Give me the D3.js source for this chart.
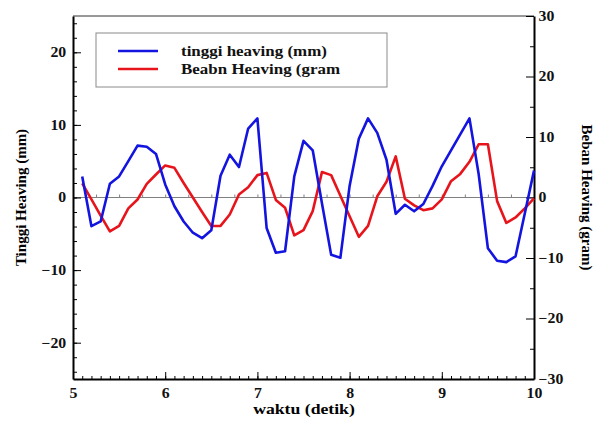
<!DOCTYPE html>
<html>
<head>
<meta charset="utf-8">
<script src="https://cdn.jsdelivr.net/npm/d3@7"></script>
<style>
  body { margin: 0; background: #fff; }
  svg text { font-family: "Liberation Serif", "Times New Roman", serif; font-weight: bold; }
</style>
</head>
<body>
<div class="chart"></div>
<script>
// waktu (detik)
const waktu = [5.1, 5.2, 5.3, 5.4, 5.5, 5.6, 5.7, 5.8, 5.9, 6.0,
               6.1, 6.2, 6.3, 6.4, 6.5, 6.6, 6.7, 6.8, 6.9, 7.0,
               7.1, 7.2, 7.3, 7.4, 7.5, 7.6, 7.7, 7.8, 7.9, 8.0,
               8.1, 8.2, 8.3, 8.4, 8.5, 8.6, 8.7, 8.8, 8.9, 9.0,
               9.1, 9.2, 9.3, 9.4, 9.5, 9.6, 9.7, 9.8, 9.9, 10.0];

// tinggi heaving (mm) - left axis
const tinggi = [2.9, -3.95, -3.3, 1.9, 2.9, 5.0, 7.15, 7.0, 6.0, 1.8,
                -1.2, -3.3, -4.85, -5.6, -4.5, 3.0, 5.9, 4.2, 9.5, 10.9,
                -4.2, -7.6, -7.4, 2.9, 7.8, 6.5, -0.8, -7.9, -8.3, 1.6,
                8.1, 10.9, 8.9, 5.2, -2.25, -1.0, -1.9, -0.9, 1.6, 4.3,
                6.5, 8.7, 10.9, 3.2, -7.0, -8.7, -8.9, -8.1, -2.2, 3.7];

// beban heaving (gram) - right axis
const beban = [2.35, -0.3, -3.0, -5.6, -4.7, -1.8, -0.33, 2.25, 3.8, 5.3,
               4.9, 2.4, 0.0, -2.4, -4.7, -4.7, -2.8, 0.5, 1.7, 3.7,
               4.06, -0.4, -1.7, -6.25, -5.4, -2.25, 4.2, 3.7, 0.3, -3.1,
               -6.5, -4.7, 0.2, 2.6, 6.8, -0.2, -1.3, -2.1, -1.8, -0.3,
               2.7, 3.9, 5.9, 8.8, 8.8, -0.6, -4.2, -3.3, -1.8, -0.16];

const xTicks = [5, 6, 7, 8, 9, 10];
const leftTicks = [-20, -10, 0, 10, 20];
const rightTicks = [-30, -20, -10, 0, 10, 20, 30];
const legendLabels = ["tinggi heaving (mm)", "Beabn Heaving (gram"];

const width = 597, height = 425;
const margin = {left: 73, right: 63, top: 16, bottom: 46};

const svg = d3.select(".chart").append("svg")
  .attr("width", width)
  .attr("height", height);

const x = d3.scaleLinear().domain([5, 10]).range([margin.left, width - margin.right]);
const yL = d3.scaleLinear().domain([-25, 25]).range([height - margin.bottom, margin.top]);
const yR = d3.scaleLinear().domain([-30, 30]).range([height - margin.bottom, margin.top]);

const bottomY = height - margin.bottom;
const rightX = width - margin.right;
const wide = 1.13; // reference text looks stretched sideways

// zero line with little ticks
svg.append("line")
  .attr("x1", x(5)).attr("x2", x(10))
  .attr("y1", yL(0)).attr("y2", yL(0))
  .attr("stroke", "#808080")
  .attr("stroke-width", 1.2);

svg.append("g")
  .attr("transform", `translate(0, ${yL(0)})`)
  .call(d3.axisTop(x).tickValues(d3.range(5.25, 10, 0.25)).tickSize(3).tickFormat(""))
  .call(g => g.select(".domain").remove())
  .call(g => g.selectAll("line").attr("stroke", "#808080"));

// top border
svg.append("line")
  .attr("x1", x(5)).attr("x2", x(10))
  .attr("y1", margin.top).attr("y2", margin.top)
  .attr("stroke", "#333")
  .attr("stroke-width", 1);

// minor ticks
svg.append("g")
  .attr("transform", `translate(${margin.left}, 0)`)
  .call(d3.axisLeft(yL).tickValues(d3.range(-24, 25, 2)).tickSizeInner(-4).tickSizeOuter(0).tickFormat(""))
  .call(g => g.select(".domain").remove());

svg.append("g")
  .attr("transform", `translate(${rightX}, 0)`)
  .call(d3.axisRight(yR).tickValues(d3.range(-25, 30, 10)).tickSizeInner(-4).tickSizeOuter(0).tickFormat(""))
  .call(g => g.select(".domain").remove());

svg.append("g")
  .attr("transform", `translate(0, ${bottomY})`)
  .call(d3.axisBottom(x).tickValues(d3.range(5.1, 10, 0.1)).tickSizeInner(-3).tickSizeOuter(0).tickFormat(""))
  .call(g => g.select(".domain").remove());

// major axes
const fmt = d => d < 0 ? "\u2212" + Math.abs(d) : String(d);

svg.append("g")
  .attr("transform", `translate(${margin.left}, 0)`)
  .call(d3.axisLeft(yL).tickValues(leftTicks).tickSizeInner(-8).tickSizeOuter(0).tickPadding(6).tickFormat(fmt))
  .call(g => g.select(".domain").attr("stroke-width", 2))
  .call(g => g.selectAll("text").attr("font-size", 14).attr("fill", "#111").attr("transform", `scale(${wide},1)`));

svg.append("g")
  .attr("transform", `translate(${rightX}, 0)`)
  .call(d3.axisRight(yR).tickValues(rightTicks).tickSizeInner(-8).tickSizeOuter(0).tickPadding(4).tickFormat(fmt))
  .call(g => g.select(".domain").attr("stroke-width", 2))
  .call(g => g.selectAll("text").attr("font-size", 14).attr("fill", "#111").attr("transform", `scale(${wide},1)`));

svg.append("g")
  .attr("transform", `translate(0, ${bottomY})`)
  .call(d3.axisBottom(x).tickValues(xTicks).tickSizeInner(-7).tickSizeOuter(0).tickPadding(9).tickFormat(fmt))
  .call(g => g.select(".domain").attr("stroke-width", 2))
  .call(g => g.selectAll("text").attr("font-size", 14).attr("fill", "#111").attr("transform", `scale(${wide},1)`));

// axis titles
svg.append("text")
  .attr("transform", `translate(26, ${yL(0)}) rotate(-90)`)
  .attr("text-anchor", "middle")
  .attr("font-size", "15px")
  .text("Tinggi Heaving (mm)");

svg.append("text")
  .attr("transform", `translate(582, ${yL(0)}) rotate(90)`)
  .attr("text-anchor", "middle")
  .attr("font-size", "15px")
  .text("Beban Heaving (gram)");

svg.append("text")
  .attr("transform", `translate(304, 414) scale(${wide + 0.05},1)`)
  .attr("text-anchor", "middle")
  .attr("font-size", "15px")
  .text("waktu (detik)");

// lines
const lineL = d3.line().x((d, i) => x(waktu[i])).y(d => yL(d));
const lineR = d3.line().x((d, i) => x(waktu[i])).y(d => yR(d));

svg.append("path")
  .datum(beban)
  .attr("d", lineR)
  .attr("fill", "none")
  .attr("stroke", "#e8141c")
  .attr("stroke-width", 2.6)
  .attr("stroke-linejoin", "round");

svg.append("path")
  .datum(tinggi)
  .attr("d", lineL)
  .attr("fill", "none")
  .attr("stroke", "#1414e0")
  .attr("stroke-width", 2.6)
  .attr("stroke-linejoin", "round");

// legend
const legend = svg.append("g");
legend.append("rect")
  .attr("x", 96).attr("y", 33)
  .attr("width", 291).attr("height", 54)
  .attr("fill", "#fff")
  .attr("stroke", "#8a8a8a")
  .attr("stroke-width", 1);

const legColors = ["#1414e0", "#e8141c"];
legend.selectAll(".leg-line")
  .data(legendLabels)
  .enter()
  .append("line")
  .attr("x1", 118).attr("x2", 158)
  .attr("y1", (d, i) => 51 + i * 18)
  .attr("y2", (d, i) => 51 + i * 18)
  .attr("stroke", (d, i) => legColors[i])
  .attr("stroke-width", 2.6);

legend.selectAll(".leg-text")
  .data(legendLabels)
  .enter()
  .append("text")
  .attr("transform", (d, i) => `translate(181, ${56 + i * 18}) scale(${wide},1)`)
  .attr("font-size", "15px")
  .attr("fill", "#111")
  .text(d => d);
</script>
</body>
</html>
